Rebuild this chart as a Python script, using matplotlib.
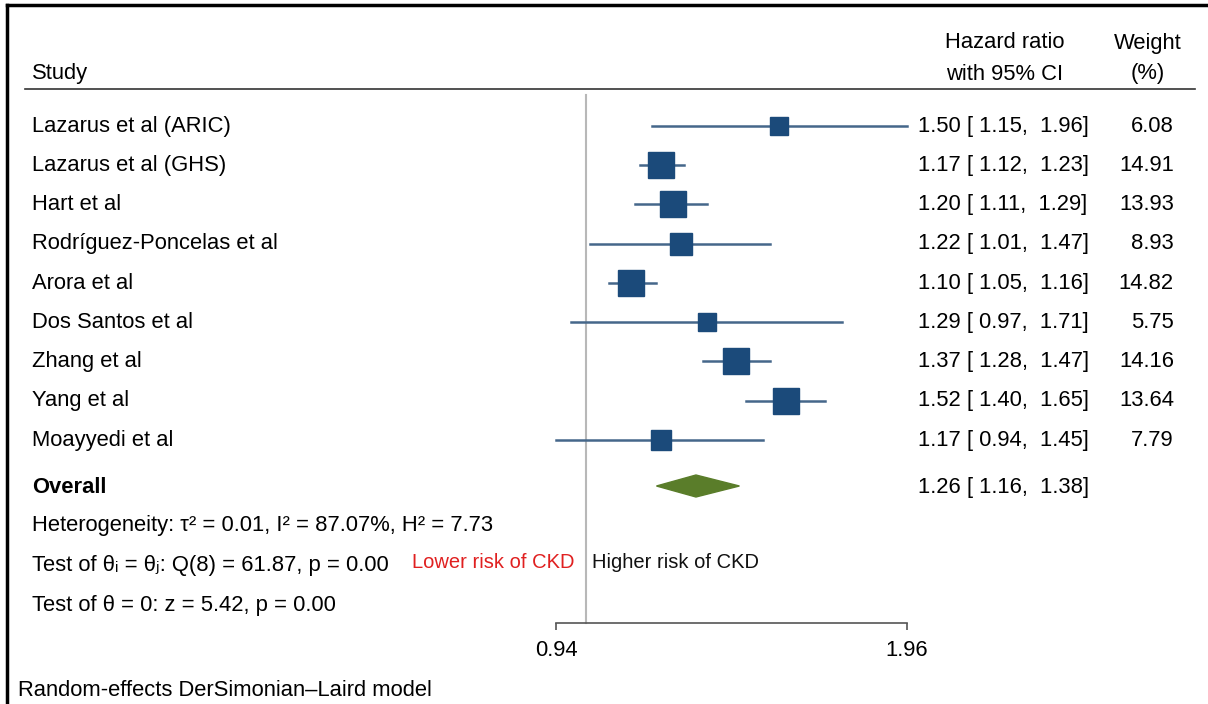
import numpy as np
import matplotlib
matplotlib.use('Agg')
import matplotlib.pyplot as plt
import matplotlib.transforms as mtransforms
from matplotlib.lines import Line2D
from matplotlib.ticker import NullLocator

plt.rcParams['font.family'] = ['Liberation Sans', 'DejaVu Sans']
plt.rcParams['font.size'] = 15.8

# data
studies = ['Lazarus et al (ARIC)', 'Lazarus et al (GHS)', 'Hart et al',
           'Rodríguez-Poncelas et al', 'Arora et al', 'Dos Santos et al',
           'Zhang et al', 'Yang et al', 'Moayyedi et al']
hr = [1.50, 1.17, 1.20, 1.22, 1.10, 1.29, 1.37, 1.52, 1.17]
lo = [1.15, 1.12, 1.11, 1.01, 1.05, 0.97, 1.28, 1.40, 0.94]
hi = [1.96, 1.23, 1.29, 1.47, 1.16, 1.71, 1.47, 1.65, 1.45]
weight = [6.08, 14.91, 13.93, 8.93, 14.82, 5.75, 14.16, 13.64, 7.79]
overall = (1.26, 1.16, 1.38)
x_ticks = [0.94, 1.96]
het_text = 'Heterogeneity: τ² = 0.01, I² = 87.07%, H² = 7.73'
q_text = 'Test of θᵢ = θⱼ: Q(8) = 61.87, p = 0.00'
z_text = 'Test of θ = 0: z = 5.42, p = 0.00'
note = 'Random-effects DerSimonian–Laird model'

W, H = 1208, 704
fig = plt.figure(figsize=(W / 100, H / 100), dpi=100)
ax = fig.add_axes([556 / W, 0, 351 / W, 1])
ax.set_xscale('log')
ax.set_xlim(0.94, 1.96)

# y in row units, row 0 at 125 px from top, 39.25 px per row
def py(p):
    return (p - 125) / 39.25

ax.set_ylim(py(H), py(0))
ax.patch.set_visible(False)

sq_col = '#1b4a7a'
ci_col = '#45678a'
rows = np.arange(len(studies))

# null line
ax.plot([1, 1], [py(95), py(623)], color='#b8b8b8', lw=1.5, clip_on=False, zorder=1)

for i in rows:
    ax.plot([lo[i], hi[i]], [i + 0.02, i + 0.02], color=ci_col, lw=1.8,
            clip_on=False, zorder=2)
    side = 5.7 + 5.26 * np.sqrt(weight[i])
    ax.plot(hr[i], i + 0.02, marker='s', ms=side / 1.389, color=sq_col, mec=sq_col,
            clip_on=False, zorder=3)

yo = py(486)
h = 11 / 39.25
ax.fill([overall[1], overall[0], overall[2], overall[0]],
        [yo, yo - h, yo, yo + h], color='#5a7d2a', clip_on=False, zorder=3)

# axis
for s in ['top', 'left', 'right']:
    ax.spines[s].set_visible(False)
ax.spines['bottom'].set_position(('data', py(623)))
ax.spines['bottom'].set_bounds(0.94, 1.96)
ax.spines['bottom'].set_color('#555555')
ax.spines['bottom'].set_linewidth(1.2)
ax.set_yticks([])
ax.set_xticks(x_ticks)
ax.set_xticklabels(['%.2f' % t for t in x_ticks])
ax.xaxis.set_minor_locator(NullLocator())
ax.tick_params(axis='x', direction='out', length=5, width=1.2, color='#555555',
               pad=7, labelsize=15.8)

# text columns
tr = mtransforms.blended_transform_factory(fig.transFigure, ax.transData)

def fx(p):
    return p / W

ax.text(fx(32), py(74), 'Study', transform=tr, va='center', ha='left')
ax.text(fx(1005), py(43), 'Hazard ratio', transform=tr, va='center', ha='center')
ax.text(fx(1005), py(74), 'with 95% CI', transform=tr, va='center', ha='center')
ax.text(fx(1148), py(43), 'Weight', transform=tr, va='center', ha='center')
ax.text(fx(1148), py(74), '(%)', transform=tr, va='center', ha='center')
ax.plot([fx(25), fx(1195)], [py(89), py(89)], transform=tr, color='#333333',
        lw=1.2, clip_on=False)

for i in rows:
    ax.text(fx(32), i + 0.03, studies[i], transform=tr, va='center', ha='left')
    ax.text(fx(918), i + 0.03, '%.2f [ %.2f,  %.2f]' % (hr[i], lo[i], hi[i]),
            transform=tr, va='center', ha='left')
    ax.text(fx(1174), i + 0.03, '%.2f' % weight[i], transform=tr, va='center', ha='right')

ax.text(fx(32), yo + 0.03, 'Overall', transform=tr, va='center', ha='left', fontweight='bold')
ax.text(fx(918), yo + 0.03, '%.2f [ %.2f,  %.2f]' % overall, transform=tr, va='center', ha='left')
ax.text(fx(32), py(526), het_text, transform=tr, va='center', ha='left')
ax.text(fx(32), py(566), q_text, transform=tr, va='center', ha='left')
ax.text(fx(32), py(605), z_text, transform=tr, va='center', ha='left')
ax.text(fx(574), py(562), 'Lower risk of CKD', transform=tr, va='center',
        ha='right', color='#e02020', fontsize=14.5)
ax.text(fx(592), py(562), 'Higher risk of CKD', transform=tr, va='center',
        ha='left', color='#111111', fontsize=14.5)
ax.text(fx(18), py(690), note, transform=tr, va='center', ha='left')

# frame
fig.add_artist(Line2D([7 / W, 1], [1 - 5 / H, 1 - 5 / H], color='black', lw=2.5))
fig.add_artist(Line2D([7 / W, 7 / W], [0, 1 - 5 / H], color='black', lw=2.5))

fig.savefig('out.png', dpi=100)
